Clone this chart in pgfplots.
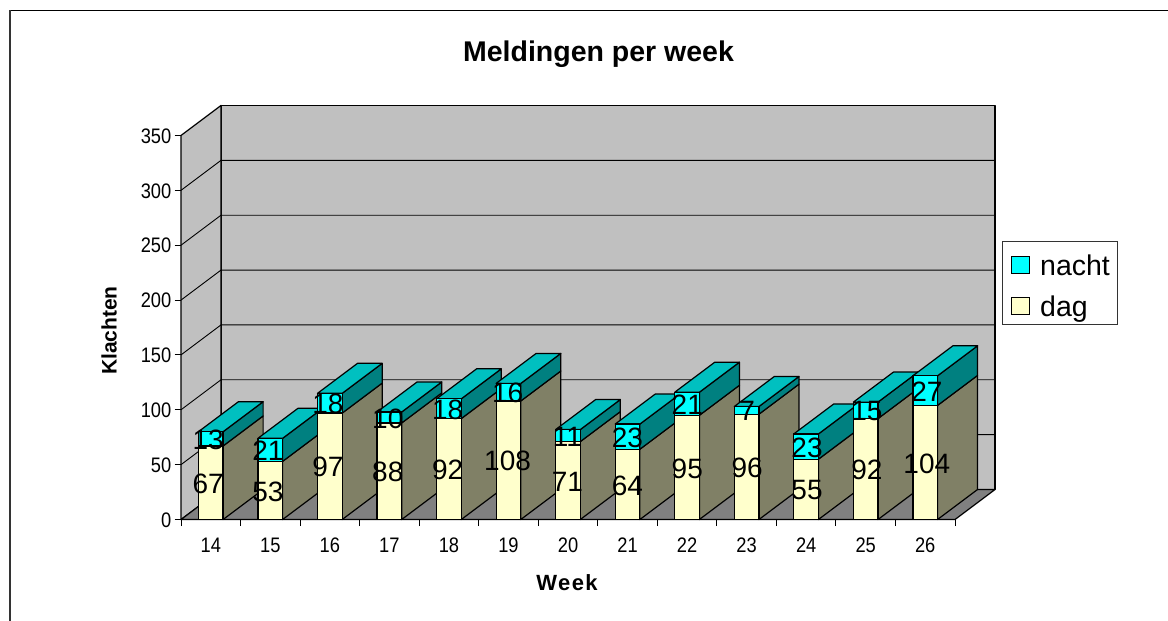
\documentclass[border=0pt]{standalone}
\usepackage{fontspec}
\setmainfont{Liberation Sans}
\newfontfamily\condf[FakeStretch=0.87]{Liberation Sans}
\newfontfamily\spacedf[LetterSpace=6.5]{Liberation Sans}
\usepackage{pgfplots}
\usepackage{pgfplotstable}
\pgfplotsset{compat=1.18}
\definecolor{wallc}{HTML}{C0C0C0}
\definecolor{floorc}{HTML}{808080}
\definecolor{dagf}{HTML}{FFFFCC}
\definecolor{dags}{HTML}{808066}
\definecolor{nachtf}{HTML}{00FFFF}
\definecolor{nachtt}{HTML}{00C0C0}
\definecolor{nachts}{HTML}{008080}
\pgfplotstableread{
week dag nacht
14 67 13
15 53 21
16 97 18
17 88 10
18 92 18
19 108 16
20 71 11
21 64 23
22 95 21
23 96 7
24 55 23
25 92 15
26 104 27
}\data
\def\dx{0.672}
\def\dy{27.35}
\def\hw{0.207}
\pgfplotsset{poly/.style={draw=black,line width=1.2bp,line join=round,mark=none,forget plot}}
\begin{document}
\begin{tikzpicture}
\useasboundingbox (0,0) rectangle (1168bp,621bp);
\fill[white] (0,0) rectangle (1168bp,621bp);
\draw[black,line width=1.3bp] (10bp,610.5bp) -- (1168bp,610.5bp);
\draw[black!80,line width=2bp] (10bp,610.5bp) -- (10bp,0);
\begin{axis}[
  at={(181bp,101.5bp)},anchor=south west,
  scale only axis,width=774bp,height=384bp,
  clip=false,
  xmin=0,xmax=13,ymin=0,ymax=350,
  axis x line*=bottom,axis y line*=left,
  axis line style={black,line width=1bp},
  xtick={0,...,13},
  xticklabels={14,15,16,17,18,19,20,21,22,23,24,25,26},
  x tick label as interval=true,
  ytick={0,50,...,350},
  tick align=outside,
  major tick length=6.5bp,
  tick style={black,line width=1bp},
  /pgf/number format/assume math mode=true,
  tick label style={font=\condf\fontsize{21bp}{21bp}\selectfont},
  x tick label style={yshift=-7.5bp,text height=15bp,text depth=0pt},
  y tick label style={inner sep=3bp,yshift=-0.5bp},
  title={\bfseries Meldingen per week},
  title style={at={(axis description cs:0.5394,1.1956)},anchor=center,font=\fontsize{28.5bp}{30bp}\selectfont,inner sep=0pt},
  xlabel={\spacedf\bfseries Week},
  xlabel style={at={(axis description cs:0.4987,-0.164)},anchor=center,font=\fontsize{22bp}{24bp}\selectfont,inner sep=0pt},
  ylabel={\bfseries Klachten},
  ylabel style={at={(axis description cs:-0.093,0.492)},anchor=center,font=\fontsize{21bp}{24bp}\selectfont,inner sep=0pt},
  legend style={at={(1.0607,0.724)},anchor=north west,draw=black!80,line width=0.8bp,
    font=\fontsize{28.5bp}{30bp}\selectfont,inner xsep=5bp,inner ysep=2bp,row sep=3bp,
    nodes={text height=30bp,text depth=4bp,inner sep=2bp}},
  legend cell align=left,
]
% walls and floor
\addplot[poly,fill=wallc] coordinates {(0.672,27.35) (13.672,27.35) (13.672,377.35) (0.672,377.35)} -- cycle;
\addplot[poly,fill=wallc] coordinates {(0,0) (0.672,27.35) (0.672,377.35) (0,350)} -- cycle;
\addplot[poly,fill=floorc] coordinates {(0,0) (13,0) (13.672,27.35) (0.672,27.35)} -- cycle;
\pgfplotsforeachungrouped \v in {50,100,...,300}{
  \pgfmathsetmacro\vb{\v+\dy}
  \edef\tmp{\noexpand\addplot[poly,line width=0.9bp] coordinates {(0,\v) (\dx,\vb) (13.672,\vb)};}
  \tmp
}
% bars
\pgfplotsforeachungrouped \i in {0,...,12}{
  \pgfplotstablegetelem{\i}{dag}\of\data \let\D\pgfplotsretval
  \pgfplotstablegetelem{\i}{nacht}\of\data \let\N\pgfplotsretval
  \pgfmathsetmacro\xl{\i+0.5-\hw}
  \pgfmathsetmacro\xr{\i+0.5+\hw}
  \pgfmathsetmacro\xlb{\xl+\dx}
  \pgfmathsetmacro\xrb{\xr+\dx}
  \pgfmathsetmacro\T{\D+\N}
  \pgfmathsetmacro\Db{\D+\dy}
  \pgfmathsetmacro\Tb{\T+\dy}
  \edef\tmp{%
    \noexpand\addplot[poly,fill=dags] coordinates {(\xr,0) (\xrb,\dy) (\xrb,\Db) (\xr,\D)} -- cycle;
    \noexpand\addplot[poly,fill=nachts] coordinates {(\xr,\D) (\xrb,\Db) (\xrb,\Tb) (\xr,\T)} -- cycle;
    \noexpand\addplot[poly,fill=nachtt] coordinates {(\xl,\T) (\xr,\T) (\xrb,\Tb) (\xlb,\Tb)} -- cycle;
    \noexpand\addplot[poly,fill=dagf] coordinates {(\xl,0) (\xr,0) (\xr,\D) (\xl,\D)} -- cycle;
    \noexpand\addplot[poly,fill=nachtf] coordinates {(\xl,\D) (\xr,\D) (\xr,\T) (\xl,\T)} -- cycle;
  }
  \tmp
}
% value labels
\pgfplotsset{every node near coord/.append style={anchor=center,inner sep=0pt,yshift=-1bp,font=\fontsize{28bp}{28bp}\selectfont,text=black}}
\addplot[draw=none,mark=none,forget plot,nodes near coords,point meta=explicit]
  table[x expr=\coordindex*1.006+0.455,y expr=\thisrow{dag}/2,meta=dag]{\data};
\addplot[draw=none,mark=none,forget plot,nodes near coords,point meta=explicit]
  table[x expr=\coordindex*1.006+0.455,y expr=\thisrow{dag}+\thisrow{nacht}/2,meta=nacht]{\data};
% legend
\addlegendimage{legend image code/.code={\path (0bp,0bp) (30bp,0bp);\draw[overlay,black,line width=1.2bp,fill=nachtf] (4bp,-11bp) rectangle (22bp,6.5bp);}}
\addlegendentry{nacht}
\addlegendimage{legend image code/.code={\path (0bp,0bp) (30bp,0bp);\draw[overlay,black,line width=1.2bp,fill=dagf] (4bp,-11bp) rectangle (22bp,6.5bp);}}
\addlegendentry{dag}
\end{axis}
\end{tikzpicture}
\end{document}
